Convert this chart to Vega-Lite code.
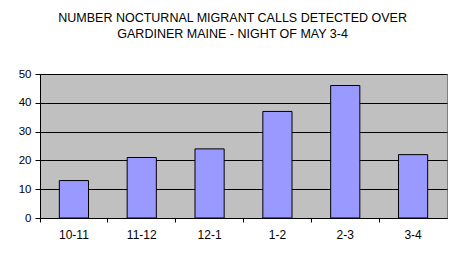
{
  "$schema": "https://vega.github.io/schema/vega-lite/v6.json",
  "autosize": "none",
  "width": 407,
  "height": 144,
  "padding": {"left": 40, "top": 74, "right": 16, "bottom": 46},
  "background": "white",
  "title": {
    "text": ["NUMBER NOCTURNAL MIGRANT CALLS DETECTED OVER", "GARDINER MAINE - NIGHT OF MAY 3-4"],
    "font": "Liberation Sans",
    "fontSize": 12.5,
    "fontWeight": "normal",
    "color": "black",
    "lineHeight": 16,
    "anchor": "middle",
    "frame": "bounds",
    "offset": 28
  },
  "data": {
    "values": [
      {"period": "10-11", "calls": 13},
      {"period": "11-12", "calls": 21},
      {"period": "12-1", "calls": 24},
      {"period": "1-2", "calls": 37},
      {"period": "2-3", "calls": 46},
      {"period": "3-4", "calls": 22}
    ]
  },
  "mark": {"type": "bar", "color": "#9999ff", "stroke": "black", "strokeWidth": 1, "width": {"band": 0.43}},
  "encoding": {
    "x": {
      "field": "period",
      "type": "nominal",
      "sort": null,
      "scale": {"paddingInner": 0, "paddingOuter": 0},
      "axis": {
        "title": null,
        "labelAngle": 0,
        "bandPosition": 0,
        "labelFont": "Liberation Sans",
        "labelFontSize": 12,
        "labelColor": "black",
        "labelPadding": 7,
        "domainColor": "black",
        "tickColor": "black",
        "tickSize": 4,
        "grid": false
      }
    },
    "y": {
      "field": "calls",
      "type": "quantitative",
      "scale": {"domain": [0, 50], "nice": false},
      "axis": {
        "title": null,
        "values": [0, 10, 20, 30, 40, 50],
        "labelFont": "Liberation Sans",
        "labelFontSize": 11.5,
        "labelColor": "black",
        "labelPadding": 4,
        "domainColor": "black",
        "tickColor": "black",
        "tickSize": 5,
        "gridColor": "black",
        "gridOpacity": 1
      }
    }
  },
  "config": {
    "view": {"fill": "#c0c0c0", "stroke": "#808080"}
  }
}
